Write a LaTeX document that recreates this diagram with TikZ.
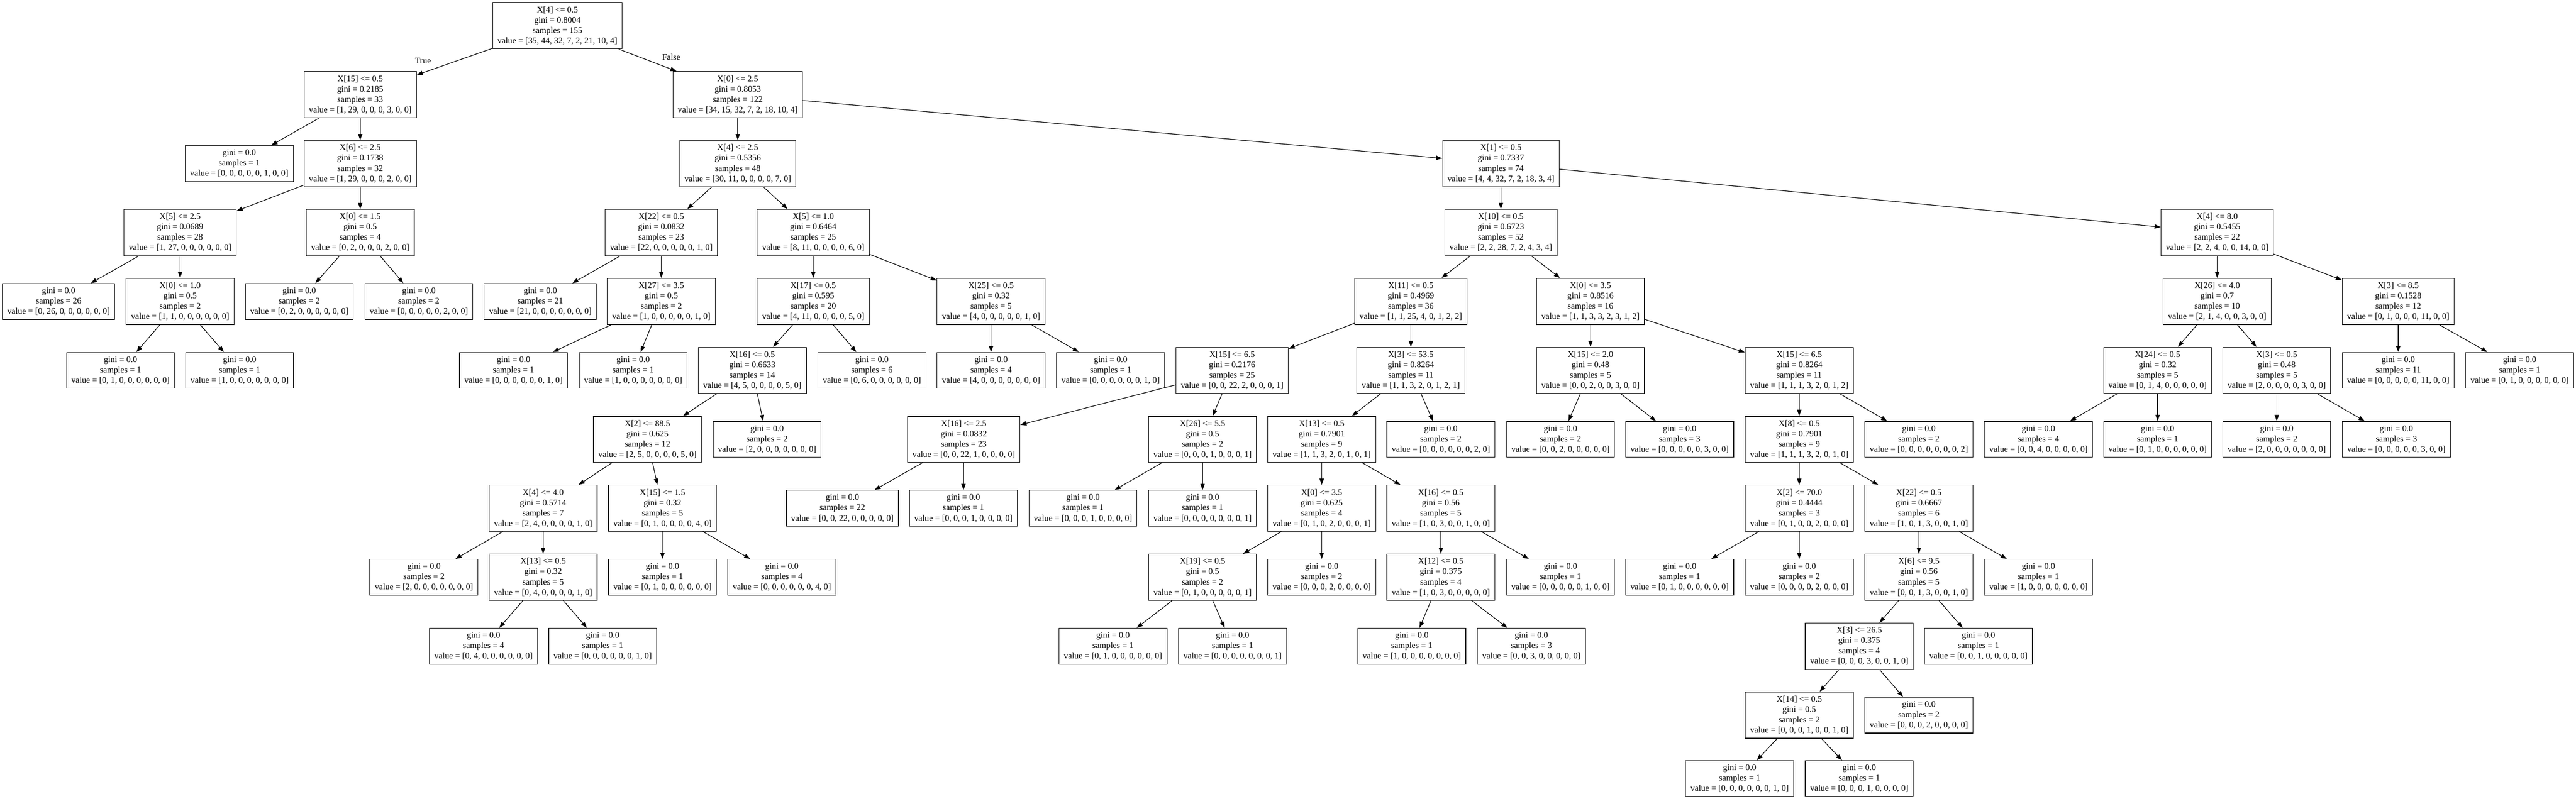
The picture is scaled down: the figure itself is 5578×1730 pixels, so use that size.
\documentclass[tikz,border=0pt]{standalone}
\usepackage{fontspec}
\setmainfont{Liberation Serif}
\usepackage{tikz}
\usetikzlibrary{arrows.meta}

\begin{document}
\begin{tikzpicture}[x=0.75pt, y=-0.75pt,
  cond/.style={draw=black, line width=1pt, align=center, font=\fontsize{14pt}{16.8pt}\selectfont, inner xsep=7.92pt, inner ysep=0pt, minimum height=75.1pt},
  leaf/.style={cond, minimum height=58.3pt},
  tag/.style={font=\fontsize{14pt}{16.8pt}\selectfont, inner sep=0pt},
  branch/.style={black, line width=1pt, -{Triangle[length=10pt, width=7pt]}}]
\useasboundingbox (0,0) rectangle (5578,1730);
\node[cond] (n0) at (1207,55.6) {X[4] <= 0.5\\gini = 0.8004\\samples = 155\\value = [35, 44, 32, 7, 2, 21, 10, 4]};
\node[cond] (n1) at (780,204.9) {X[15] <= 0.5\\gini = 0.2185\\samples = 33\\value = [1, 29, 0, 0, 0, 3, 0, 0]};
\node[leaf] (n2) at (518,354.2) {gini = 0.0\\samples = 1\\value = [0, 0, 0, 0, 0, 1, 0, 0]};
\node[cond] (n3) at (780,354.2) {X[6] <= 2.5\\gini = 0.1738\\samples = 32\\value = [1, 29, 0, 0, 0, 2, 0, 0]};
\node[cond] (n4) at (390,503.5) {X[5] <= 2.5\\gini = 0.0689\\samples = 28\\value = [1, 27, 0, 0, 0, 0, 0, 0]};
\node[leaf] (n5) at (127,652.8) {gini = 0.0\\samples = 26\\value = [0, 26, 0, 0, 0, 0, 0, 0]};
\node[cond] (n6) at (390,652.8) {X[0] <= 1.0\\gini = 0.5\\samples = 2\\value = [1, 1, 0, 0, 0, 0, 0, 0]};
\node[leaf] (n7) at (261,802.1) {gini = 0.0\\samples = 1\\value = [0, 1, 0, 0, 0, 0, 0, 0]};
\node[leaf] (n8) at (519,802.1) {gini = 0.0\\samples = 1\\value = [1, 0, 0, 0, 0, 0, 0, 0]};
\node[cond] (n9) at (780,503.5) {X[0] <= 1.5\\gini = 0.5\\samples = 4\\value = [0, 2, 0, 0, 0, 2, 0, 0]};
\node[leaf] (n10) at (648,652.8) {gini = 0.0\\samples = 2\\value = [0, 2, 0, 0, 0, 0, 0, 0]};
\node[leaf] (n11) at (907,652.8) {gini = 0.0\\samples = 2\\value = [0, 0, 0, 0, 0, 2, 0, 0]};
\node[cond] (n12) at (1597.5,204.9) {X[0] <= 2.5\\gini = 0.8053\\samples = 122\\value = [34, 15, 32, 7, 2, 18, 10, 4]};
\node[cond] (n13) at (1597.5,354.2) {X[4] <= 2.5\\gini = 0.5356\\samples = 48\\value = [30, 11, 0, 0, 0, 0, 7, 0]};
\node[cond] (n14) at (1432,503.5) {X[22] <= 0.5\\gini = 0.0832\\samples = 23\\value = [22, 0, 0, 0, 0, 0, 1, 0]};
\node[leaf] (n15) at (1170,652.8) {gini = 0.0\\samples = 21\\value = [21, 0, 0, 0, 0, 0, 0, 0]};
\node[cond] (n16) at (1432,652.8) {X[27] <= 3.5\\gini = 0.5\\samples = 2\\value = [1, 0, 0, 0, 0, 0, 1, 0]};
\node[leaf] (n17) at (1112,802.1) {gini = 0.0\\samples = 1\\value = [0, 0, 0, 0, 0, 0, 1, 0]};
\node[leaf] (n18) at (1371,802.1) {gini = 0.0\\samples = 1\\value = [1, 0, 0, 0, 0, 0, 0, 0]};
\node[cond] (n19) at (1761,503.5) {X[5] <= 1.0\\gini = 0.6464\\samples = 25\\value = [8, 11, 0, 0, 0, 0, 6, 0]};
\node[cond] (n20) at (1761,652.8) {X[17] <= 0.5\\gini = 0.595\\samples = 20\\value = [4, 11, 0, 0, 0, 0, 5, 0]};
\node[cond] (n21) at (1629,802.1) {X[16] <= 0.5\\gini = 0.6633\\samples = 14\\value = [4, 5, 0, 0, 0, 0, 5, 0]};
\node[cond] (n22) at (1402,951.4) {X[2] <= 88.5\\gini = 0.625\\samples = 12\\value = [2, 5, 0, 0, 0, 0, 5, 0]};
\node[cond] (n23) at (1176,1100.7) {X[4] <= 4.0\\gini = 0.5714\\samples = 7\\value = [2, 4, 0, 0, 0, 0, 1, 0]};
\node[leaf] (n24) at (918,1250) {gini = 0.0\\samples = 2\\value = [2, 0, 0, 0, 0, 0, 0, 0]};
\node[cond] (n25) at (1176,1250) {X[13] <= 0.5\\gini = 0.32\\samples = 5\\value = [0, 4, 0, 0, 0, 0, 1, 0]};
\node[leaf] (n26) at (1047,1399.3) {gini = 0.0\\samples = 4\\value = [0, 4, 0, 0, 0, 0, 0, 0]};
\node[leaf] (n27) at (1305,1399.3) {gini = 0.0\\samples = 1\\value = [0, 0, 0, 0, 0, 0, 1, 0]};
\node[cond] (n28) at (1434.5,1100.7) {X[15] <= 1.5\\gini = 0.32\\samples = 5\\value = [0, 1, 0, 0, 0, 0, 4, 0]};
\node[leaf] (n29) at (1434.5,1250) {gini = 0.0\\samples = 1\\value = [0, 1, 0, 0, 0, 0, 0, 0]};
\node[leaf] (n30) at (1693,1250) {gini = 0.0\\samples = 4\\value = [0, 0, 0, 0, 0, 0, 4, 0]};
\node[leaf] (n31) at (1661,951.4) {gini = 0.0\\samples = 2\\value = [2, 0, 0, 0, 0, 0, 0, 0]};
\node[leaf] (n32) at (1888,802.1) {gini = 0.0\\samples = 6\\value = [0, 6, 0, 0, 0, 0, 0, 0]};
\node[cond] (n33) at (2146,652.8) {X[25] <= 0.5\\gini = 0.32\\samples = 5\\value = [4, 0, 0, 0, 0, 0, 1, 0]};
\node[leaf] (n34) at (2146,802.1) {gini = 0.0\\samples = 4\\value = [4, 0, 0, 0, 0, 0, 0, 0]};
\node[leaf] (n35) at (2405,802.1) {gini = 0.0\\samples = 1\\value = [0, 0, 0, 0, 0, 0, 1, 0]};
\node[cond] (n36) at (3250,354.2) {X[1] <= 0.5\\gini = 0.7337\\samples = 74\\value = [4, 4, 32, 7, 2, 18, 3, 4]};
\node[cond] (n37) at (3250,503.5) {X[10] <= 0.5\\gini = 0.6723\\samples = 52\\value = [2, 2, 28, 7, 2, 4, 3, 4]};
\node[cond] (n38) at (3055,652.8) {X[11] <= 0.5\\gini = 0.4969\\samples = 36\\value = [1, 1, 25, 4, 0, 1, 2, 2]};
\node[cond] (n39) at (2668,802.1) {X[15] <= 6.5\\gini = 0.2176\\samples = 25\\value = [0, 0, 22, 2, 0, 0, 0, 1]};
\node[cond] (n40) at (2087,951.4) {X[16] <= 2.5\\gini = 0.0832\\samples = 23\\value = [0, 0, 22, 1, 0, 0, 0, 0]};
\node[leaf] (n41) at (1824,1100.7) {gini = 0.0\\samples = 22\\value = [0, 0, 22, 0, 0, 0, 0, 0]};
\node[leaf] (n42) at (2086,1100.7) {gini = 0.0\\samples = 1\\value = [0, 0, 0, 1, 0, 0, 0, 0]};
\node[cond] (n43) at (2604,951.4) {X[26] <= 5.5\\gini = 0.5\\samples = 2\\value = [0, 0, 0, 1, 0, 0, 0, 1]};
\node[leaf] (n44) at (2345,1100.7) {gini = 0.0\\samples = 1\\value = [0, 0, 0, 1, 0, 0, 0, 0]};
\node[leaf] (n45) at (2604,1100.7) {gini = 0.0\\samples = 1\\value = [0, 0, 0, 0, 0, 0, 0, 1]};
\node[cond] (n46) at (3055,802.1) {X[3] <= 53.5\\gini = 0.8264\\samples = 11\\value = [1, 1, 3, 2, 0, 1, 2, 1]};
\node[cond] (n47) at (2862,951.4) {X[13] <= 0.5\\gini = 0.7901\\samples = 9\\value = [1, 1, 3, 2, 0, 1, 0, 1]};
\node[cond] (n48) at (2862,1100.7) {X[0] <= 3.5\\gini = 0.625\\samples = 4\\value = [0, 1, 0, 2, 0, 0, 0, 1]};
\node[cond] (n49) at (2604,1250) {X[19] <= 0.5\\gini = 0.5\\samples = 2\\value = [0, 1, 0, 0, 0, 0, 0, 1]};
\node[leaf] (n50) at (2410,1399.3) {gini = 0.0\\samples = 1\\value = [0, 1, 0, 0, 0, 0, 0, 0]};
\node[leaf] (n51) at (2669,1399.3) {gini = 0.0\\samples = 1\\value = [0, 0, 0, 0, 0, 0, 0, 1]};
\node[leaf] (n52) at (2862,1250) {gini = 0.0\\samples = 2\\value = [0, 0, 0, 2, 0, 0, 0, 0]};
\node[cond] (n53) at (3120,1100.7) {X[16] <= 0.5\\gini = 0.56\\samples = 5\\value = [1, 0, 3, 0, 0, 1, 0, 0]};
\node[cond] (n54) at (3120,1250) {X[12] <= 0.5\\gini = 0.375\\samples = 4\\value = [1, 0, 3, 0, 0, 0, 0, 0]};
\node[leaf] (n55) at (3057,1399.3) {gini = 0.0\\samples = 1\\value = [1, 0, 0, 0, 0, 0, 0, 0]};
\node[leaf] (n56) at (3316,1399.3) {gini = 0.0\\samples = 3\\value = [0, 0, 3, 0, 0, 0, 0, 0]};
\node[leaf] (n57) at (3379,1250) {gini = 0.0\\samples = 1\\value = [0, 0, 0, 0, 0, 1, 0, 0]};
\node[leaf] (n58) at (3120,951.4) {gini = 0.0\\samples = 2\\value = [0, 0, 0, 0, 0, 0, 2, 0]};
\node[cond] (n59) at (3444,652.8) {X[0] <= 3.5\\gini = 0.8516\\samples = 16\\value = [1, 1, 3, 3, 2, 3, 1, 2]};
\node[cond] (n60) at (3444,802.1) {X[15] <= 2.0\\gini = 0.48\\samples = 5\\value = [0, 0, 2, 0, 0, 3, 0, 0]};
\node[leaf] (n61) at (3379,951.4) {gini = 0.0\\samples = 2\\value = [0, 0, 2, 0, 0, 0, 0, 0]};
\node[leaf] (n62) at (3637,951.4) {gini = 0.0\\samples = 3\\value = [0, 0, 0, 0, 0, 3, 0, 0]};
\node[cond] (n63) at (3896,802.1) {X[15] <= 6.5\\gini = 0.8264\\samples = 11\\value = [1, 1, 1, 3, 2, 0, 1, 2]};
\node[cond] (n64) at (3896,951.4) {X[8] <= 0.5\\gini = 0.7901\\samples = 9\\value = [1, 1, 1, 3, 2, 0, 1, 0]};
\node[cond] (n65) at (3896,1100.7) {X[2] <= 70.0\\gini = 0.4444\\samples = 3\\value = [0, 1, 0, 0, 2, 0, 0, 0]};
\node[leaf] (n66) at (3637,1250) {gini = 0.0\\samples = 1\\value = [0, 1, 0, 0, 0, 0, 0, 0]};
\node[leaf] (n67) at (3896,1250) {gini = 0.0\\samples = 2\\value = [0, 0, 0, 0, 2, 0, 0, 0]};
\node[cond] (n68) at (4155,1100.7) {X[22] <= 0.5\\gini = 0.6667\\samples = 6\\value = [1, 0, 1, 3, 0, 0, 1, 0]};
\node[cond] (n69) at (4155,1250) {X[6] <= 9.5\\gini = 0.56\\samples = 5\\value = [0, 0, 1, 3, 0, 0, 1, 0]};
\node[cond] (n70) at (4026,1399.3) {X[3] <= 26.5\\gini = 0.375\\samples = 4\\value = [0, 0, 0, 3, 0, 0, 1, 0]};
\node[cond] (n71) at (3896,1548.6) {X[14] <= 0.5\\gini = 0.5\\samples = 2\\value = [0, 0, 0, 1, 0, 0, 1, 0]};
\node[leaf] (n72) at (3767,1686) {gini = 0.0\\samples = 1\\value = [0, 0, 0, 0, 0, 0, 1, 0]};
\node[leaf] (n73) at (4026,1686) {gini = 0.0\\samples = 1\\value = [0, 0, 0, 1, 0, 0, 0, 0]};
\node[leaf] (n74) at (4155,1548.6) {gini = 0.0\\samples = 2\\value = [0, 0, 0, 2, 0, 0, 0, 0]};
\node[leaf] (n75) at (4284,1399.3) {gini = 0.0\\samples = 1\\value = [0, 0, 1, 0, 0, 0, 0, 0]};
\node[leaf] (n76) at (4414,1250) {gini = 0.0\\samples = 1\\value = [1, 0, 0, 0, 0, 0, 0, 0]};
\node[leaf] (n77) at (4155,951.4) {gini = 0.0\\samples = 2\\value = [0, 0, 0, 0, 0, 0, 0, 2]};
\node[cond] (n78) at (4801,503.5) {X[4] <= 8.0\\gini = 0.5455\\samples = 22\\value = [2, 2, 4, 0, 0, 14, 0, 0]};
\node[cond] (n79) at (4801,652.8) {X[26] <= 4.0\\gini = 0.7\\samples = 10\\value = [2, 1, 4, 0, 0, 3, 0, 0]};
\node[cond] (n80) at (4672,802.1) {X[24] <= 0.5\\gini = 0.32\\samples = 5\\value = [0, 1, 4, 0, 0, 0, 0, 0]};
\node[leaf] (n81) at (4414,951.4) {gini = 0.0\\samples = 4\\value = [0, 0, 4, 0, 0, 0, 0, 0]};
\node[leaf] (n82) at (4672,951.4) {gini = 0.0\\samples = 1\\value = [0, 1, 0, 0, 0, 0, 0, 0]};
\node[cond] (n83) at (4930,802.1) {X[3] <= 0.5\\gini = 0.48\\samples = 5\\value = [2, 0, 0, 0, 0, 3, 0, 0]};
\node[leaf] (n84) at (4930,951.4) {gini = 0.0\\samples = 2\\value = [2, 0, 0, 0, 0, 0, 0, 0]};
\node[leaf] (n85) at (5189,951.4) {gini = 0.0\\samples = 3\\value = [0, 0, 0, 0, 0, 3, 0, 0]};
\node[cond] (n86) at (5193,652.8) {X[3] <= 8.5\\gini = 0.1528\\samples = 12\\value = [0, 1, 0, 0, 0, 11, 0, 0]};
\node[leaf] (n87) at (5193,802.1) {gini = 0.0\\samples = 11\\value = [0, 0, 0, 0, 0, 11, 0, 0]};
\node[leaf] (n88) at (5456,802.1) {gini = 0.0\\samples = 1\\value = [0, 1, 0, 0, 0, 0, 0, 0]};
\node[tag] (ltrue) at (916,131.6) {True};
\node[tag] (lfalse) at (1453.6,123.7) {False};
\draw[branch] (n0) -- (n1);
\draw[branch] (n0) -- (n12);
\draw[branch] (n1) -- (n2);
\draw[branch] (n1) -- (n3);
\draw[branch] (n3) -- (n4);
\draw[branch] (n3) -- (n9);
\draw[branch] (n4) -- (n5);
\draw[branch] (n4) -- (n6);
\draw[branch] (n6) -- (n7);
\draw[branch] (n6) -- (n8);
\draw[branch] (n9) -- (n10);
\draw[branch] (n9) -- (n11);
\draw[branch] (n12) -- (n13);
\draw[branch] (n12) -- (n36);
\draw[branch] (n13) -- (n14);
\draw[branch] (n13) -- (n19);
\draw[branch] (n14) -- (n15);
\draw[branch] (n14) -- (n16);
\draw[branch] (n16) -- (n17);
\draw[branch] (n16) -- (n18);
\draw[branch] (n19) -- (n20);
\draw[branch] (n19) -- (n33);
\draw[branch] (n20) -- (n21);
\draw[branch] (n20) -- (n32);
\draw[branch] (n21) -- (n22);
\draw[branch] (n21) -- (n31);
\draw[branch] (n22) -- (n23);
\draw[branch] (n22) -- (n28);
\draw[branch] (n23) -- (n24);
\draw[branch] (n23) -- (n25);
\draw[branch] (n25) -- (n26);
\draw[branch] (n25) -- (n27);
\draw[branch] (n28) -- (n29);
\draw[branch] (n28) -- (n30);
\draw[branch] (n33) -- (n34);
\draw[branch] (n33) -- (n35);
\draw[branch] (n36) -- (n37);
\draw[branch] (n36) -- (n78);
\draw[branch] (n37) -- (n38);
\draw[branch] (n37) -- (n59);
\draw[branch] (n38) -- (n39);
\draw[branch] (n38) -- (n46);
\draw[branch] (n39) -- (n40);
\draw[branch] (n39) -- (n43);
\draw[branch] (n40) -- (n41);
\draw[branch] (n40) -- (n42);
\draw[branch] (n43) -- (n44);
\draw[branch] (n43) -- (n45);
\draw[branch] (n46) -- (n47);
\draw[branch] (n46) -- (n58);
\draw[branch] (n47) -- (n48);
\draw[branch] (n47) -- (n53);
\draw[branch] (n48) -- (n49);
\draw[branch] (n48) -- (n52);
\draw[branch] (n49) -- (n50);
\draw[branch] (n49) -- (n51);
\draw[branch] (n53) -- (n54);
\draw[branch] (n53) -- (n57);
\draw[branch] (n54) -- (n55);
\draw[branch] (n54) -- (n56);
\draw[branch] (n59) -- (n60);
\draw[branch] (n59) -- (n63);
\draw[branch] (n60) -- (n61);
\draw[branch] (n60) -- (n62);
\draw[branch] (n63) -- (n64);
\draw[branch] (n63) -- (n77);
\draw[branch] (n64) -- (n65);
\draw[branch] (n64) -- (n68);
\draw[branch] (n65) -- (n66);
\draw[branch] (n65) -- (n67);
\draw[branch] (n68) -- (n69);
\draw[branch] (n68) -- (n76);
\draw[branch] (n69) -- (n70);
\draw[branch] (n69) -- (n75);
\draw[branch] (n70) -- (n71);
\draw[branch] (n70) -- (n74);
\draw[branch] (n71) -- (n72);
\draw[branch] (n71) -- (n73);
\draw[branch] (n78) -- (n79);
\draw[branch] (n78) -- (n86);
\draw[branch] (n79) -- (n80);
\draw[branch] (n79) -- (n83);
\draw[branch] (n80) -- (n81);
\draw[branch] (n80) -- (n82);
\draw[branch] (n83) -- (n84);
\draw[branch] (n83) -- (n85);
\draw[branch] (n86) -- (n87);
\draw[branch] (n86) -- (n88);
\end{tikzpicture}
\end{document}
